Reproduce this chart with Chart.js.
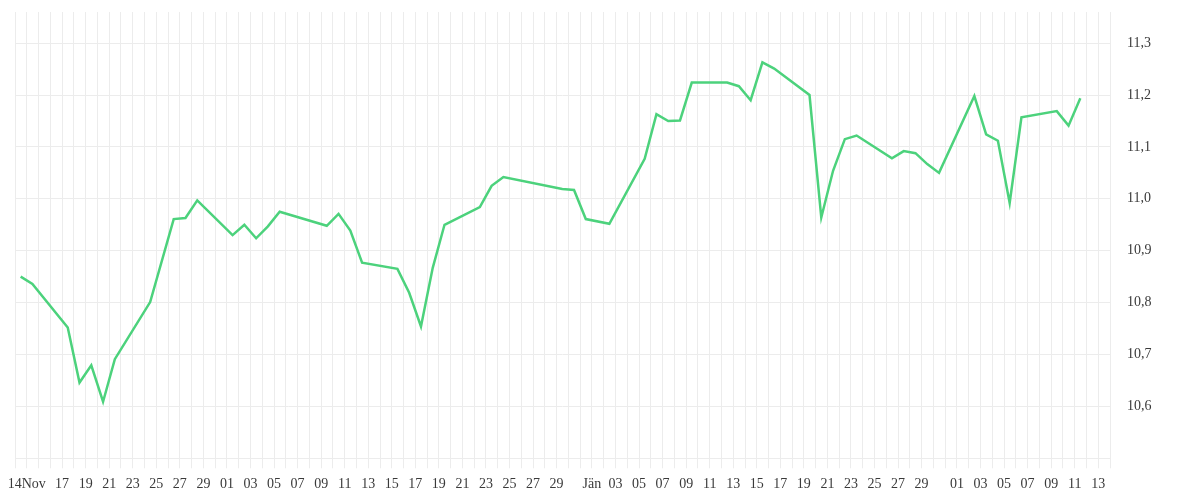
<!DOCTYPE html>
<html>
<head>
<meta charset="utf-8">
<title>Kursverlauf</title>
<script src="https://cdn.jsdelivr.net/npm/chart.js@4.4.1/dist/chart.umd.min.js"></script>
<style>
    html, body { margin: 0; padding: 0; background: #ffffff; }
    .chart-wrap { position: relative; width: 1200px; height: 500px; }
</style>
</head>
<body>
<div class="chart-wrap">
    <canvas id="priceChart"></canvas>
</div>
<script>
// Trading days and closing values
const dates = [
    '2025-11-13', '2025-11-14', '2025-11-17', '2025-11-18', '2025-11-19', '2025-11-20', '2025-11-21',
    '2025-11-24', '2025-11-26', '2025-11-27', '2025-11-28',
    '2025-12-01', '2025-12-02', '2025-12-03', '2025-12-04', '2025-12-05',
    '2025-12-09', '2025-12-10', '2025-12-11', '2025-12-12',
    '2025-12-15', '2025-12-16', '2025-12-17', '2025-12-18', '2025-12-19',
    '2025-12-22', '2025-12-23', '2025-12-24', '2025-12-29', '2025-12-30', '2025-12-31',
    '2026-01-02', '2026-01-05', '2026-01-06', '2026-01-07', '2026-01-08', '2026-01-09',
    '2026-01-12', '2026-01-13', '2026-01-14', '2026-01-15', '2026-01-16',
    '2026-01-19', '2026-01-20', '2026-01-21', '2026-01-22', '2026-01-23',
    '2026-01-26', '2026-01-27', '2026-01-28', '2026-01-29', '2026-01-30',
    '2026-02-02', '2026-02-03', '2026-02-04', '2026-02-05', '2026-02-06',
    '2026-02-09', '2026-02-10', '2026-02-11'
];

const values = [
    10.850, 10.836, 10.752, 10.646, 10.679, 10.609, 10.691,
    10.801, 10.961, 10.963, 10.997,
    10.930, 10.950, 10.924, 10.947, 10.975,
    10.948, 10.971, 10.939, 10.877,
    10.865, 10.819, 10.754, 10.867, 10.950,
    10.984, 11.025, 11.042, 11.019, 11.017, 10.961,
    10.952, 11.077, 11.163, 11.150, 11.151, 11.224,
    11.224, 11.217, 11.190, 11.263, 11.251,
    11.200, 10.964, 11.054, 11.115, 11.122,
    11.078, 11.092, 11.088, 11.067, 11.050,
    11.198, 11.124, 11.112, 10.992, 11.157,
    11.169, 11.141, 11.194
];

// Axis range and ticks
const axisStart = '2025-11-13';
const axisEnd = '2026-02-14';
const yTicks = [10.5, 10.6, 10.7, 10.8, 10.9, 11.0, 11.1, 11.2, 11.3];
const specialLabels = { '2025-11-14': '14Nov', '2026-01-01': 'Jän' };
const regularLabelsFrom = '2025-11-17';
const regularLabelsTo = '2026-02-13';

const DAY = 86400000;
const pointHour = 11.5; // values are stamped late morning

function dayIndex(iso) {
    return (Date.parse(iso + 'T00:00:00Z') - Date.parse(axisStart + 'T00:00:00Z')) / DAY;
}

function isoFromIndex(idx) {
    return new Date(Date.parse(axisStart + 'T00:00:00Z') + idx * DAY).toISOString().slice(0, 10);
}

function xLabel(idx) {
    const iso = isoFromIndex(idx);
    if (specialLabels[iso]) return specialLabels[iso];
    if (iso < regularLabelsFrom || iso > regularLabelsTo) return '';
    const day = parseInt(iso.slice(8, 10), 10);
    // every second day, restarting each month, 31st dropped
    if (day % 2 === 1 && day !== 31) return iso.slice(8, 10);
    return '';
}

const points = dates.map((d, i) => ({ x: dayIndex(d) + pointHour / 24, y: values[i] }));

const gridColor = '#ececec';

document.addEventListener('DOMContentLoaded', function () {
    const ctx = document.getElementById('priceChart').getContext('2d');

    Chart.defaults.font.family = "'Liberation Serif', 'DejaVu Serif', serif";
    Chart.defaults.font.size = 14;
    Chart.defaults.color = '#3a3a3a';

    new Chart(ctx, {
        type: 'line',
        data: {
            datasets: [{
                label: 'Kurs',
                data: points,
                borderColor: '#4cd27c',
                borderWidth: 2.5,
                pointRadius: 0,
                pointHoverRadius: 0,
                tension: 0,
                fill: false
            }]
        },
        options: {
            responsive: true,
            maintainAspectRatio: false,
            animation: false,
            layout: {
                padding: { left: 15, right: 0, top: 12, bottom: 0 }
            },
            plugins: {
                legend: { display: false },
                tooltip: { enabled: false }
            },
            scales: {
                x: {
                    type: 'linear',
                    min: 0,
                    max: dayIndex(axisEnd),
                    grid: {
                        color: gridColor,
                        lineWidth: 1,
                        drawTicks: true,
                        tickLength: 10
                    },
                    border: { display: true, color: gridColor },
                    ticks: {
                        stepSize: 1,
                        autoSkip: false,
                        maxRotation: 0,
                        minRotation: 0,
                        padding: 8,
                        callback: function (value) {
                            return xLabel(Math.round(value));
                        }
                    },
                    afterFit: function (axis) {
                        axis.paddingLeft = 0;
                        axis.paddingRight = 0;
                        axis.height = 41.7;
                    }
                },
                y: {
                    type: 'linear',
                    position: 'right',
                    min: 10.5,
                    max: 11.36,
                    grid: {
                        color: gridColor,
                        lineWidth: 1,
                        drawTicks: false
                    },
                    border: { display: false },
                    afterBuildTicks: function (axis) {
                        axis.ticks = yTicks.map(v => ({ value: v }));
                    },
                    afterFit: function (axis) {
                        axis.width = 90;
                        axis.paddingTop = 0;
                        axis.paddingBottom = 0;
                    },
                    ticks: {
                        padding: 17,
                        callback: function (value) {
                            if (Math.abs(value - 10.5) < 1e-6) return '';
                            return value.toFixed(1).replace('.', ',');
                        }
                    }
                }
            }
        }
    });
});
</script>
</body>
</html>
